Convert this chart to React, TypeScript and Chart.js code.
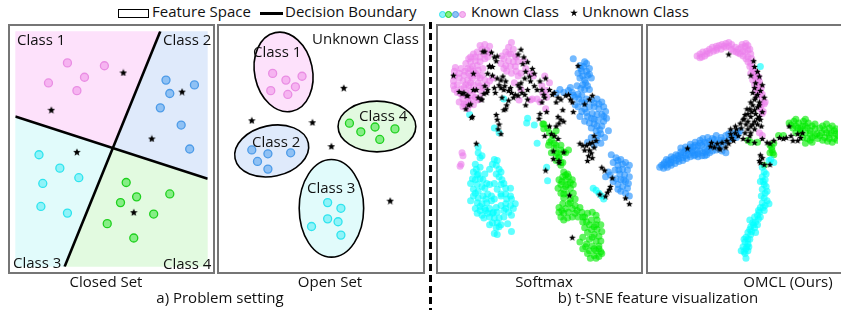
import React, { useEffect, useRef } from 'react';
import { Chart, registerables } from 'chart.js';
Chart.register(...registerables);

type P = [number, number];

// ---------- a) Problem setting: Closed Set ----------
const closedClass1: P[] = [[65, 59], [104, 62], [83, 74], [45, 80], [75, 88]];
const closedClass2: P[] = [[169, 77], [199, 82], [173, 91], [163, 106], [185, 124], [194, 149]];
const closedClass3: P[] = [[35, 155], [57, 169], [39, 185], [77, 179], [37, 209], [65, 216]];
const closedClass4: P[] = [[127, 184], [138, 199], [121, 205], [173, 196], [156, 217], [107, 227], [135, 242]];
const closedUnknown: P[] = [[124, 69], [48, 108], [186, 89], [154, 138], [75, 152], [135, 215]];
const boundaryA: P[] = [[163, 26], [62, 272]];
const boundaryB: P[] = [[10, 115], [213, 180]];

// ---------- a) Problem setting: Open Set ----------
const openClass1: P[] = [[270, 70], [284, 77], [301, 73], [268, 88], [286, 92], [294, 84]];
const openClass2: P[] = [[248, 150], [265, 154], [289, 153], [254, 162], [265, 170]];
const openClass3: P[] = [[328, 205], [342, 211], [328, 222], [339, 225], [311, 230], [342, 239]];
const openClass4: P[] = [[351, 122], [363, 131], [378, 126], [399, 128], [383, 139]];
const openUnknown: P[] = [[345, 85], [248, 119], [312, 121], [332, 146], [394, 203]];
// [cx, cy, rx, ry, rotationDeg] for class 1..4
const openEllipses: number[][] = [[281.5, 68.5, 30.5, 42, -12], [269, 151, 39.5, 26.5, -12], [332, 211, 34, 51, 0], [380, 125.5, 41, 26.5, 0]];

// ---------- b) t-SNE Softmax ----------
const smPink: P[] = [
  [40, 16], [45, 15], [50, 17], [42, 20], [47, 21], [37, 23], [33, 25],
  [14, 39], [13, 43], [13, 48], [12, 53], [12, 58], [13, 62],
  [25, 35], [30, 33], [35, 32], [27, 40], [32, 38], [37, 37], [40, 33], [23, 47], [28, 45], [33, 43], [38, 42], [42, 47],
  [22, 53], [27, 52], [32, 50], [37, 48], [23, 60], [28, 58], [33, 57], [38, 55], [20, 67], [25, 65], [30, 63], [35, 62],
  [22, 72], [27, 70], [32, 68], [37, 73], [23, 77], [28, 75], [33, 78], [40, 72], [43, 60], [47, 57], [50, 53], [53, 50], [43, 40],
  [20, 62], [18, 75], [25, 78], [30, 73],
  [20, 40], [18, 50], [16, 57], [24, 43], [30, 40], [35, 45], [40, 50], [45, 52], [42, 65], [40, 58], [30, 55], [25, 57], [22, 80],
  [27, 82], [35, 70], [30, 48], [48, 28], [45, 30], [40, 28], [35, 28], [30, 28], [28, 30], [44, 25], [50, 24], [18, 45], [16, 65],
  [67, 23], [72, 25], [77, 27], [65, 30], [70, 32], [75, 33], [67, 37], [72, 38], [77, 38], [68, 43], [73, 45], [78, 43], [73, 13],
  [70, 25], [78, 28], [86, 32], [83, 45], [93, 45], [96, 48], [81, 73], [95, 72],
  [63, 27], [62, 35], [70, 18], [75, 20], [80, 33], [65, 40], [80, 48], [76, 55], [83, 62], [93, 73], [88, 40],
  [108, 48], [110, 63], [109, 82], [100, 72], [113, 55], [105, 58], [106, 66], [103, 75], [110, 70],
  [21, 128], [22, 131], [20, 140], [19, 142],
];
const smBlue: P[] = [
  [150, 33], [149, 38], [145, 37], [147, 43], [152, 43], [153, 47], [145, 50], [150, 52], [157, 50], [148, 57], [153, 58], [150, 62],
  [143, 67], [140, 70], [137, 65], [133, 63], [128, 65], [147, 68], [152, 72], [147, 75], [157, 73], [163, 72], [168, 75], [170, 80],
  [172, 85], [165, 82], [160, 80], [155, 80], [150, 82], [147, 85], [158, 87], [163, 88], [168, 88], [153, 90], [160, 93], [155, 97],
  [163, 100], [168, 100], [157, 102], [162, 105], [167, 108], [163, 115], [157, 112], [153, 117], [167, 118], [142, 58],
  [138, 30], [155, 40], [143, 45], [120, 66], [124, 62], [135, 60], [165, 77], [173, 92], [170, 95], [160, 98], [150, 95], [145, 90], [175, 105], [140, 78],
  [152, 35], [146, 40], [155, 46], [148, 48], [151, 55], [146, 61], [155, 62], [138, 68], [144, 72], [150, 76], [160, 76], [143, 80],
  [152, 86], [157, 92], [164, 94], [170, 90], [166, 104], [171, 112], [160, 120], [164, 110],
  [178, 130], [183, 133], [188, 135], [193, 138], [197, 141], [180, 138], [185, 141], [190, 145], [195, 146], [182, 146], [187, 150],
  [192, 151], [197, 153], [183, 155], [188, 156], [193, 158], [185, 161], [190, 163], [195, 165], [188, 168], [193, 170], [197, 173],
  [175, 148], [172, 153], [180, 158], [177, 151], [185, 136], [190, 140], [186, 146], [191, 156], [185, 166], [196, 160],
];
const smCyan: P[] = [
  [38, 128], [40, 133], [42, 131], [35, 140], [33, 148], [37, 151], [38, 150], [55, 135], [58, 136], [53, 140], [57, 141], [60, 145],
  [50, 145], [62, 148], [32, 155], [35, 156], [40, 155], [43, 156], [37, 161], [42, 163], [47, 160], [33, 166], [38, 168], [60, 153],
  [63, 156], [65, 160], [67, 165], [62, 161], [72, 165], [33, 173], [38, 175], [43, 173], [48, 171], [52, 173], [37, 180], [42, 181],
  [47, 180], [52, 178], [55, 176], [62, 173], [67, 171], [72, 173], [73, 176], [77, 181], [35, 186], [40, 188], [45, 186], [50, 186],
  [57, 185], [62, 183], [67, 181], [72, 183], [75, 186], [37, 191], [42, 193], [48, 191], [53, 191], [58, 190], [65, 188], [70, 190],
  [73, 193], [50, 195], [55, 196], [60, 196], [53, 201], [58, 201], [62, 203], [50, 203], [57, 206], [60, 205], [55, 212], [58, 213],
  [69, 202], [73, 210], [50, 161], [62, 171],
  [36, 145], [40, 143], [45, 150], [30, 160], [35, 170], [45, 165], [57, 150], [55, 160], [58, 166], [68, 176], [46, 176], [40, 184],
  [30, 178], [44, 196], [65, 195], [67, 186], [54, 190], [46, 188],
  [29, 88], [65, 72], [55, 102], [60, 107], [38, 122], [90, 92], [89, 97], [100, 118], [97, 99], [110, 143], [111, 157],
  [159, 165], [162, 167], [165, 170], [168, 173], [170, 176],
];
const smGreen: P[] = [
  [115, 128], [120, 129], [125, 125], [130, 128], [123, 133], [120, 136], [127, 138], [125, 141],
  [128, 148], [132, 150], [127, 153], [133, 153], [123, 156], [130, 156], [137, 156], [125, 161], [132, 161], [138, 161], [122, 165],
  [128, 166], [135, 165], [125, 170], [132, 171], [138, 170], [128, 175], [135, 176], [140, 176], [127, 181], [133, 181], [140, 183],
  [145, 185], [123, 185], [130, 186], [137, 186],
  [123, 190], [128, 191], [133, 190], [140, 191], [147, 190], [125, 195], [132, 196], [137, 195], [143, 195], [148, 195], [128, 198],
  [153, 191], [158, 190], [162, 193], [150, 195], [157, 198], [163, 198], [148, 200], [155, 203], [162, 203], [167, 203], [150, 206],
  [157, 208], [163, 208], [168, 210], [153, 211], [160, 213], [165, 215], [148, 216], [155, 218], [162, 220], [167, 220], [145, 221],
  [152, 223], [158, 225], [165, 225], [148, 228], [155, 230], [162, 230], [167, 231], [153, 233], [160, 235], [165, 236], [162, 238], [168, 233],
  [130, 151], [126, 158], [135, 159], [130, 163], [128, 171], [135, 180], [126, 188], [142, 188], [152, 200], [160, 205], [158, 216],
  [151, 226], [160, 228], [156, 238], [165, 228],
  [107, 98], [107, 103], [113, 107], [117, 110], [115, 115], [120, 120], [113, 117], [112, 120], [118, 123], [133, 125],
  [106, 98], [111, 102], [120, 105], [118, 118], [125, 120], [128, 127], [123, 132], [125, 138], [121, 128],
];
const smUnknown: P[] = [
  [43, 22], [52, 23], [58, 27], [57, 32], [33, 45], [50, 37], [53, 38], [48, 45], [53, 47], [58, 50], [62, 52], [67, 53], [62, 60],
  [65, 62], [70, 63], [73, 65], [77, 67], [80, 68], [83, 20], [80, 25], [85, 35], [90, 33], [88, 43], [87, 50], [92, 48], [93, 53],
  [90, 62], [87, 67], [90, 72], [88, 78], [97, 58], [100, 62], [38, 70], [42, 72], [27, 68], [28, 78], [23, 65], [12, 47], [33, 62],
  [68, 78], [67, 82], [65, 83], [57, 88], [58, 93], [60, 98], [59, 103], [62, 108], [36, 118], [32, 90], [48, 62], [47, 65], [63, 70],
  [80, 57], [83, 55], [21, 66], [26, 68], [30, 77], [25, 82], [31, 91], [36, 62], [41, 72], [44, 66], [45, 22], [55, 28], [50, 38], [56, 65],
  [60, 57], [66, 58], [72, 60], [75, 70], [70, 73], [82, 60], [84, 65], [95, 40], [97, 45], [86, 28], [64, 48], [18, 64], [45, 58], [55, 60],
  [143, 37], [109, 50], [103, 53], [105, 62], [107, 67], [108, 70], [118, 65], [122, 70], [125, 72], [130, 68], [133, 67], [135, 72],
  [137, 75], [150, 77], [155, 72], [158, 68], [138, 85], [127, 83], [122, 90], [125, 93], [128, 95], [123, 97], [120, 100], [103, 87],
  [102, 92], [113, 100], [115, 108], [118, 110], [122, 113], [160, 110], [162, 115], [158, 117], [155, 118], [152, 120], [148, 120], [145, 118],
  [113, 62], [116, 67], [120, 75], [105, 75], [110, 85], [108, 110], [150, 125], [158, 133], [160, 122],
  [117, 126], [128, 127], [117, 134], [123, 136], [123, 138], [155, 125], [157, 128], [154, 131], [153, 136], [109, 146], [168, 143],
  [171, 146], [179, 154], [177, 163], [176, 166], [174, 169], [166, 171], [172, 173], [193, 175], [197, 181], [134, 172], [137, 216],
];

// ---------- b) t-SNE OMCL (Ours) ----------
const omPink: P[] = [
  [47, 27], [50, 25], [53, 23], [57, 22], [60, 20], [63, 18], [67, 17], [70, 16], [73, 15], [77, 14], [80, 13], [83, 15], [87, 18],
  [90, 20], [93, 18], [97, 17], [100, 16], [102, 20], [92, 25], [95, 27], [98, 30], [100, 33], [103, 35], [102, 38], [105, 40],
  [103, 45], [107, 47], [108, 50], [105, 52], [110, 53], [107, 57], [112, 58], [108, 62], [113, 65], [110, 68], [115, 72], [77, 18],
  [67, 21], [57, 25], [52, 28], [88, 23], [97, 23], [103, 25], [100, 28], [83, 20], [72, 20], [113, 82], [115, 87], [112, 107],
  [115, 110], [116, 85], [118, 75],
  [50, 29], [55, 27], [60, 24], [64, 22], [68, 19], [75, 17], [80, 17], [85, 22], [90, 24], [95, 22], [100, 21], [104, 30], [106, 43],
  [109, 45], [111, 49], [112, 54], [114, 60], [111, 63], [115, 67], [117, 77], [114, 78], [98, 14], [94, 15],
];
const omBlue: P[] = [
  [30, 123], [35, 122], [40, 119], [45, 117], [50, 115], [53, 113], [58, 112], [63, 113], [67, 110], [72, 112], [77, 110], [80, 108],
  [83, 107], [88, 107], [92, 105], [52, 120], [57, 118], [67, 117], [72, 115], [60, 122], [43, 122],
  [10, 141], [13, 138], [17, 136], [20, 135], [23, 133], [27, 131], [30, 130], [33, 128], [37, 126], [40, 125], [43, 126], [47, 125],
  [50, 126], [53, 128], [57, 130], [60, 128], [63, 126], [67, 125], [70, 123], [12, 140], [15, 141], [18, 139], [25, 136], [32, 133],
  [38, 130], [48, 129], [55, 131], [73, 126], [77, 128],
  [20, 138], [28, 134], [35, 131], [42, 128], [45, 130], [58, 125], [62, 121], [70, 118], [75, 116], [85, 110], [90, 108], [55, 124], [48, 121],
  [12, 144], [16, 143], [20, 141], [24, 139], [28, 137], [32, 136], [36, 134], [40, 132], [44, 131], [48, 132], [52, 131], [56, 127],
  [66, 121], [75, 119], [80, 114], [84, 113], [88, 112], [65, 114], [60, 116], [55, 117], [50, 118], [45, 120], [40, 122], [35, 125],
  [30, 127], [25, 130], [20, 132], [15, 135], [8, 143],
];
const omCyan: P[] = [
  [113, 38],
  [122, 136], [127, 138], [124, 135], [115, 143], [117, 148], [115, 153], [118, 156], [117, 161], [115, 166], [118, 170], [117, 175],
  [120, 178], [115, 180], [113, 185], [118, 183], [112, 190], [117, 188], [110, 193], [107, 195], [113, 195], [108, 200], [105, 201],
  [102, 198], [103, 205], [107, 206], [102, 208], [100, 211], [103, 213], [98, 216], [102, 218], [97, 221], [100, 223], [95, 226],
  [98, 228], [93, 230], [100, 230], [97, 233], [98, 238], [122, 181], [108, 211], [110, 203],
  [116, 158], [114, 173], [119, 163], [111, 188], [106, 203], [99, 226], [96, 218],
  [119, 150], [113, 158], [120, 168], [116, 185], [111, 197], [104, 210], [100, 218], [96, 231], [101, 226],
];
const omGreen: P[] = [
  [100, 115], [103, 117], [110, 117], [123, 120], [127, 118], [143, 97], [148, 95], [153, 97], [158, 95], [163, 97], [147, 102],
  [152, 102], [157, 100], [162, 102], [167, 100], [150, 107], [155, 107], [160, 107], [165, 105], [170, 103], [157, 112], [162, 113],
  [167, 112], [172, 108], [175, 102], [178, 100], [182, 98], [185, 102], [188, 100], [192, 103], [177, 107], [182, 107], [187, 107],
  [192, 108], [180, 112], [185, 113], [190, 113], [193, 115], [167, 117], [160, 118], [173, 113], [137, 110], [132, 110],
  [145, 99], [150, 100], [155, 103], [160, 100], [165, 108], [170, 110], [175, 110], [180, 104], [185, 109], [190, 105], [194, 110],
  [170, 98], [160, 93], [150, 93], [178, 115], [183, 116], [188, 117], [165, 115], [155, 105],
  [125, 125], [127, 130], [123, 128], [117, 141], [125, 122], [126, 128],
];
const omUnknown: P[] = [
  [80, 25], [106, 32], [107, 38], [110, 43], [103, 47], [112, 48], [108, 55], [115, 57], [107, 60], [113, 63], [110, 67], [117, 70],
  [107, 72], [103, 75], [112, 75], [105, 78], [110, 80], [102, 82], [107, 83], [115, 85], [100, 87], [108, 87], [97, 88], [103, 90],
  [112, 90], [95, 93], [100, 95], [107, 95], [113, 93], [92, 97], [98, 98], [103, 100], [110, 98], [93, 102], [88, 103], [100, 103],
  [107, 103], [87, 107], [82, 108], [97, 107], [103, 107], [83, 112], [78, 115], [73, 117], [80, 118], [68, 118], [62, 117], [65, 122],
  [77, 122], [70, 123], [37, 123], [100, 115], [107, 117], [115, 113], [120, 117], [123, 118], [127, 115], [133, 112], [137, 113],
  [140, 112], [145, 110], [143, 100], [152, 108], [155, 112], [152, 115], [147, 115], [157, 107], [87, 100], [82, 103],
  [105, 65], [108, 70], [112, 78], [104, 85], [110, 92], [96, 92], [105, 98], [99, 82], [114, 100], [102, 110], [90, 110], [95, 113], [85, 115],
  [113, 130], [115, 133], [112, 136], [113, 138], [117, 140], [123, 140], [61, 121], [71, 124],
];

// ---------- styles ----------
const dotFill = ['#f6b4f1', '#8fc1f4', '#8ff3f8', '#86ee86'];
const dotEdge = ['#e98de3', '#4d9be8', '#2fe4ee', '#1ed01e'];
const regionFill = ['#fde1fb', '#dfeafb', '#e1fbfb', '#e2fae0'];
const tsneFill = ['rgba(236,128,236,0.62)', 'rgba(30,144,255,0.62)', 'rgba(0,255,255,0.62)', 'rgba(0,236,0,0.62)'];
const FONT = '"Open Sans", "Noto Sans", sans-serif';

const pts = (a: P[]) => a.map(([x, y]) => ({ x, y }));

function makeStar(size: number): HTMLCanvasElement {
  const c = document.createElement('canvas');
  c.width = size;
  c.height = size;
  const ctx = c.getContext('2d')!;
  const R = size / 2;
  const r = R * 0.45;
  ctx.beginPath();
  for (let i = 0; i < 10; i++) {
    const a = -Math.PI / 2 + (i * Math.PI) / 5;
    const rad = i % 2 ? r : R;
    ctx.lineTo(R + rad * Math.cos(a), R + 0.5 + rad * Math.sin(a));
  }
  ctx.closePath();
  ctx.fillStyle = '#000';
  ctx.fill();
  return c;
}

function baseOptions(xr: [number, number], yr: [number, number]): any {
  return {
    responsive: false,
    animation: false,
    events: [],
    layout: { padding: 0 },
    plugins: { legend: { display: false }, tooltip: { enabled: false } },
    scales: {
      x: { type: 'linear', display: false, min: xr[0], max: xr[1] },
      y: { type: 'linear', display: false, min: yr[0], max: yr[1], reverse: true },
    },
  };
}

function dotSet(data: P[], i: number) {
  return {
    type: 'scatter', data: pts(data), order: 1, pointRadius: 4, pointBorderWidth: 1.3,
    pointBackgroundColor: dotFill[i], pointBorderColor: dotEdge[i],
  };
}
function starSet(data: P[], size: number) {
  return { type: 'scatter', data: pts(data), order: 0, pointStyle: makeStar(size), pointRadius: size / 2 };
}
function tsneSet(data: P[], i: number) {
  return {
    type: 'scatter', data: pts(data), order: 1, pointRadius: 3.5, pointBorderWidth: 0,
    pointBackgroundColor: tsneFill[i], pointBorderColor: tsneFill[i],
  };
}

function intersect(a: P[], b: P[]): P {
  const [x1, y1] = a[0], [x2, y2] = a[1], [x3, y3] = b[0], [x4, y4] = b[1];
  const d = (x1 - x2) * (y3 - y4) - (y1 - y2) * (x3 - x4);
  const t = ((x1 - x3) * (y3 - y4) - (y1 - y3) * (x3 - x4)) / d;
  return [x1 + t * (x2 - x1), y1 + t * (y2 - y1)];
}

const closedConfig = () => {
  const xr: [number, number] = [10, 213];
  const yr: [number, number] = [26, 272];
  const regions = {
    id: 'regions',
    beforeDatasetsDraw(chart: any) {
      const { ctx, scales } = chart;
      const X = (v: number) => scales.x.getPixelForValue(v);
      const Y = (v: number) => scales.y.getPixelForValue(v);
      const I = intersect(boundaryA, boundaryB);
      const [A0, A1] = boundaryA;
      const [B0, B1] = boundaryB;
      const polys: P[][] = [
        [[xr[0], yr[0]], A0, I, B0],
        [A0, [xr[1], yr[0]], B1, I],
        [B0, I, A1, [xr[0], yr[1]]],
        [I, B1, [xr[1], yr[1]], A1],
      ];
      ctx.save();
      polys.forEach((poly, k) => {
        ctx.beginPath();
        poly.forEach(([x, y], j) => (j ? ctx.lineTo(X(x), Y(y)) : ctx.moveTo(X(x), Y(y))));
        ctx.closePath();
        ctx.fillStyle = regionFill[k];
        ctx.fill();
      });
      ctx.restore();
    },
  };
  const line = (d: P[]) => ({
    type: 'line', data: pts(d), order: 2, borderColor: '#000', borderWidth: 2.6, pointRadius: 0, showLine: true, fill: false,
  });
  return {
    type: 'scatter',
    data: {
      datasets: [
        starSet(closedUnknown, 8),
        dotSet(closedClass1, 0), dotSet(closedClass2, 1), dotSet(closedClass3, 2), dotSet(closedClass4, 3),
        line(boundaryA), line(boundaryB),
      ],
    },
    options: baseOptions(xr, yr),
    plugins: [regions],
  };
};

const openConfig = () => {
  const ellipses = {
    id: 'ellipses',
    beforeDatasetsDraw(chart: any) {
      const { ctx, scales } = chart;
      ctx.save();
      openEllipses.forEach(([cx, cy, rx, ry, rot], k) => {
        const px = scales.x.getPixelForValue(cx);
        const py = scales.y.getPixelForValue(cy);
        const prx = Math.abs(scales.x.getPixelForValue(cx + rx) - px);
        const pry = Math.abs(scales.y.getPixelForValue(cy + ry) - py);
        ctx.beginPath();
        ctx.ellipse(px, py, prx, pry, (rot * Math.PI) / 180, 0, Math.PI * 2);
        ctx.fillStyle = regionFill[k];
        ctx.fill();
        ctx.lineWidth = 1.6;
        ctx.strokeStyle = '#000';
        ctx.stroke();
      });
      ctx.restore();
    },
  };
  return {
    type: 'scatter',
    data: {
      datasets: [
        starSet(openUnknown, 8),
        dotSet(openClass1, 0), dotSet(openClass2, 1), dotSet(openClass3, 2), dotSet(openClass4, 3),
      ],
    },
    options: baseOptions([219, 423], [26, 272]),
    plugins: [ellipses],
  };
};

const softmaxConfig = () => ({
  type: 'scatter',
  data: {
    datasets: [
      starSet(smUnknown, 7),
      tsneSet(smPink, 0), tsneSet(smBlue, 1), tsneSet(smCyan, 2), tsneSet(smGreen, 3),
    ],
  },
  options: baseOptions([1, 204], [1, 247]),
});

const omclConfig = () => ({
  type: 'scatter',
  data: {
    datasets: [
      starSet(omUnknown, 7),
      tsneSet(omPink, 0), tsneSet(omBlue, 1), tsneSet(omCyan, 2), tsneSet(omGreen, 3),
    ],
  },
  options: baseOptions([1, 194], [1, 247]),
});

function Panel({ left, top, width, height, config }: { left: number; top: number; width: number; height: number; config: () => any }) {
  const ref = useRef<HTMLCanvasElement>(null);
  useEffect(() => {
    const chart = new Chart(ref.current as HTMLCanvasElement, config());
    return () => chart.destroy();
  }, []);
  return (
    <div style={{ position: 'absolute', left, top, width, height, boxSizing: 'border-box', border: '2px solid #767676', background: '#fff' }}>
      <canvas ref={ref} width={width - 4} height={height - 4} style={{ display: 'block' }} />
    </div>
  );
}

function Txt({ x, y, children, center }: { x: number; y: number; children: React.ReactNode; center?: boolean }) {
  return (
    <div style={{
      position: 'absolute', left: x, top: y, fontFamily: FONT, fontSize: 15, lineHeight: '20px', color: '#111',
      whiteSpace: 'nowrap', transform: center ? 'translateX(-50%)' : undefined, zIndex: 2,
    }}>{children}</div>
  );
}

function Dot({ x, y, i }: { x: number; y: number; i: number }) {
  return <div style={{ position: 'absolute', left: x - 3.5, top: y - 3.5, width: 7, height: 7, borderRadius: '50%', boxSizing: 'border-box', background: dotFill[i], border: `1px solid ${dotEdge[i]}` }} />;
}

export default function App() {
  return (
    <div style={{ position: 'absolute', left: 0, top: 0, width: 841, height: 310, overflow: 'hidden', background: '#fff' }}>
      {/* legend */}
      <div style={{ position: 'absolute', left: 118, top: 9, width: 31, height: 9, boxSizing: 'border-box', border: '1.5px solid #000' }} />
      <Txt x={152} y={1}>Feature Space</Txt>
      <div style={{ position: 'absolute', left: 260, top: 12, width: 23, height: 2.5, background: '#000' }} />
      <Txt x={285} y={1}>Decision Boundary</Txt>
      <Dot x={442} y={14} i={2} />
      <Dot x={448.5} y={14} i={3} />
      <Dot x={455.5} y={14} i={1} />
      <Dot x={462.5} y={14} i={0} />
      <Txt x={471} y={1}>Known Class</Txt>
      <div style={{ position: 'absolute', left: 570, top: 9, width: 8, height: 8, background: '#000', clipPath: 'polygon(50% 0%, 61% 35%, 98% 35%, 68% 57%, 79% 91%, 50% 70%, 21% 91%, 32% 57%, 2% 35%, 39% 35%)' }} />
      <Txt x={582} y={1}>Unknown Class</Txt>

      {/* panels */}
      <Panel left={8} top={24} width={207} height={250} config={closedConfig} />
      <Panel left={217} top={24} width={208} height={250} config={openConfig} />
      <Panel left={436} top={24} width={207} height={250} config={softmaxConfig} />
      <Panel left={646} top={24} width={199} height={250} config={omclConfig} />

      {/* in-panel labels */}
      <Txt x={17} y={29}>Class 1</Txt>
      <Txt x={163} y={29}>Class 2</Txt>
      <Txt x={13} y={252}>Class 3</Txt>
      <Txt x={163} y={253}>Class 4</Txt>
      <Txt x={312} y={28}>Unknown Class</Txt>
      <Txt x={253} y={41}>Class 1</Txt>
      <Txt x={252} y={131}>Class 2</Txt>
      <Txt x={359} y={105}>Class 4</Txt>
      <Txt x={307} y={177}>Class 3</Txt>

      {/* captions */}
      <Txt x={106} y={271} center>Closed Set</Txt>
      <Txt x={330} y={271} center>Open Set</Txt>
      <Txt x={220} y={287} center>a) Problem setting</Txt>
      <Txt x={544} y={271} center>Softmax</Txt>
      <Txt x={788} y={271} center>OMCL (Ours)</Txt>
      <Txt x={658} y={287} center>b) t-SNE feature visualization</Txt>

      {/* divider */}
      <div style={{ position: 'absolute', left: 429, top: 22, width: 3, height: 288, background: 'repeating-linear-gradient(to bottom, #000 0px, #000 7px, transparent 7px, transparent 11px)' }} />
    </div>
  );
}
